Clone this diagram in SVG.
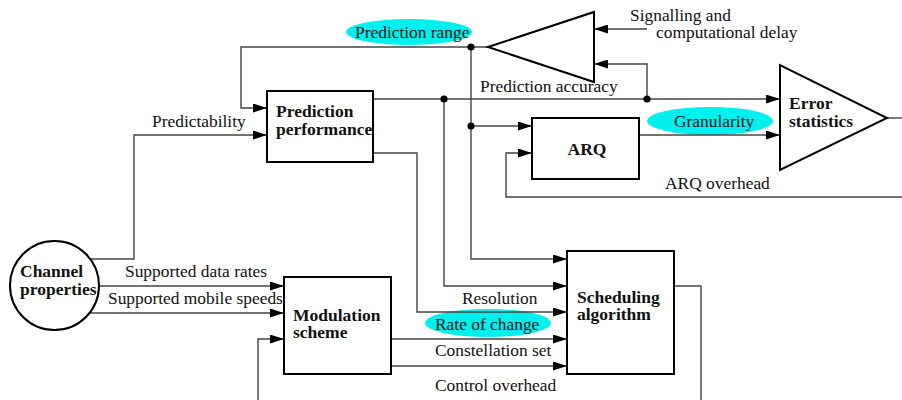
<svg xmlns="http://www.w3.org/2000/svg" width="902" height="400" viewBox="0 0 902 400">
  <style>
    .box { fill: #fff; stroke: #000; stroke-width: 2; }
    .wire { fill: none; stroke: #444; stroke-width: 1.4; }
    text { font-family: "Liberation Serif", "Times New Roman", serif; fill: #111; }
    .lbl { font-size: 17.4px; }
    .bold { font-size: 17.5px; font-weight: bold; }
    .tag { fill: #00efef; }
    .dot { fill: #000; }
  </style>
  <defs>
    <marker id="arrow" markerUnits="userSpaceOnUse" markerWidth="15" markerHeight="9" refX="14" refY="4.5" orient="auto">
      <path d="M0,0 L14,4.5 L0,9 z" fill="#000"/>
    </marker>
  </defs>
  <rect width="902" height="400" fill="#fff"/>

  <!-- highlighted parameter tags -->
  <ellipse class="tag" cx="409" cy="32" rx="63" ry="13"/>
  <ellipse class="tag" cx="710" cy="121" rx="63" ry="14"/>
  <ellipse class="tag" cx="488" cy="323" rx="63" ry="14"/>

  <g id="connectors">
    <path class="wire" d="M488,47 H241 V108 H267" marker-end="url(#arrow)"/>
    <path class="wire" d="M471,47 V259 H567" marker-end="url(#arrow)"/>
    <path class="wire" d="M471,126 H532" marker-end="url(#arrow)"/>
    <path class="wire" d="M373,99 H780" marker-end="url(#arrow)"/>
    <path class="wire" d="M444,99 V286 H567" marker-end="url(#arrow)"/>
    <path class="wire" d="M647,99 V64 H594" marker-end="url(#arrow)"/>
    <path class="wire" d="M647,29 H594" marker-end="url(#arrow)"/>
    <path class="wire" d="M373,153 H417 V312 H567" marker-end="url(#arrow)"/>
    <path class="wire" d="M639,135 H780" marker-end="url(#arrow)"/>
    <path class="wire" d="M887,118 H902"/>
    <path class="wire" d="M902,197 H506 V153 H532" marker-end="url(#arrow)"/>
    <path class="wire" d="M90,259 H134 V135 H267" marker-end="url(#arrow)"/>
    <path class="wire" d="M99,286 H284" marker-end="url(#arrow)"/>
    <path class="wire" d="M90,313 H284" marker-end="url(#arrow)"/>
    <path class="wire" d="M258,400 V339 H284" marker-end="url(#arrow)"/>
    <path class="wire" d="M391,339 H567" marker-end="url(#arrow)"/>
    <path class="wire" d="M391,366 H567" stroke="#2f6868" marker-end="url(#arrow)"/>
    <path class="wire" d="M674,286 H701 V400"/>
    <circle class="dot" cx="471" cy="47" r="3.6"/>
    <circle class="dot" cx="444" cy="99" r="3.6"/>
    <circle class="dot" cx="647" cy="99" r="3.6"/>
    <circle class="dot" cx="471" cy="126" r="3.6"/>
  </g>

  <!-- connector labels -->
  <g id="labels">
    <text class="lbl" x="355" y="38">Prediction range</text>
    <text class="lbl" x="630" y="21">Signalling and</text>
    <text class="lbl" x="656" y="38">computational delay</text>
    <text class="lbl" x="480" y="92">Prediction accuracy</text>
    <text class="lbl" x="152" y="127">Predictability</text>
    <text class="lbl" x="674" y="127">Granularity</text>
    <text class="lbl" x="665" y="189">ARQ overhead</text>
    <text class="lbl" x="125" y="277">Supported data rates</text>
    <text class="lbl" x="108" y="304">Supported mobile speeds</text>
    <text class="lbl" x="462" y="304">Resolution</text>
    <text class="lbl" x="435" y="330">Rate of change</text>
    <text class="lbl" x="435" y="356">Constellation set</text>
    <text class="lbl" x="435" y="391">Control overhead</text>
  </g>

  <g id="prediction-delay">
    <polygon class="box" points="488,47 594,12 594,82"/>
  </g>

  <g id="prediction-performance">
    <rect class="box" x="267" y="91" width="106" height="71"/>
    <text class="bold" x="276" y="117">Prediction</text>
    <text class="bold" x="276" y="135">performance</text>
  </g>

  <g id="arq">
    <rect class="box" x="532" y="118" width="107" height="61"/>
    <text class="bold" x="587" y="155" text-anchor="middle">ARQ</text>
  </g>

  <g id="error-statistics">
    <polygon class="box" points="780,65 780,170 887,118"/>
    <text class="bold" x="789" y="109">Error</text>
    <text class="bold" x="789" y="127">statistics</text>
  </g>

  <g id="channel-properties">
    <circle class="box" cx="54.5" cy="285.5" r="44.5"/>
    <text class="bold" x="20" y="277">Channel</text>
    <text class="bold" x="20" y="295">properties</text>
  </g>

  <g id="modulation-scheme">
    <rect class="box" x="284" y="277" width="107" height="97"/>
    <text class="bold" x="293" y="321">Modulation</text>
    <text class="bold" x="293" y="338">scheme</text>
  </g>

  <g id="scheduling-algorithm">
    <rect class="box" x="567" y="251" width="107" height="123"/>
    <text class="bold" x="577" y="303">Scheduling</text>
    <text class="bold" x="577" y="320">algorithm</text>
  </g>
</svg>
